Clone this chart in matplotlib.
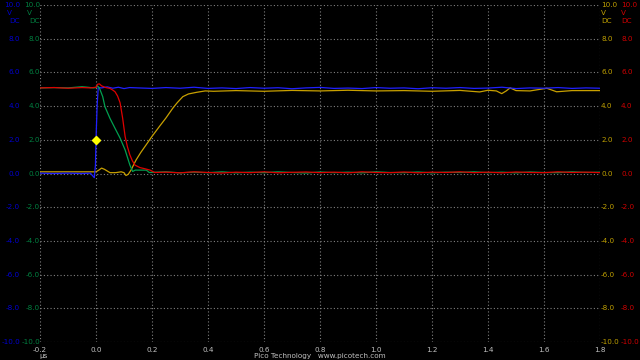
import matplotlib
matplotlib.use('Agg')
import matplotlib.pyplot as plt
import matplotlib.transforms as mtransforms

# time axis ticks (us) and voltage ticks (V)
x_ticks = [-0.2, 0.0, 0.2, 0.4, 0.6, 0.8, 1.0, 1.2, 1.4, 1.6, 1.8]
y_ticks = [10.0, 8.0, 6.0, 4.0, 2.0, 0.0, -2.0, -4.0, -6.0, -8.0, -10.0]

# channel A (blue)
blue_t = [-0.2, -0.15, -0.1, -0.05, -0.02, -0.006, -0.002, 0.0, 0.004, 0.008,
          0.02, 0.04, 0.06, 0.08, 0.1, 0.12, 0.15, 0.2, 0.25, 0.3,
          0.35, 0.4, 0.45, 0.5, 0.55, 0.6, 0.65, 0.7, 0.75, 0.8,
          0.85, 0.9, 0.95, 1.0, 1.05, 1.1, 1.15, 1.2, 1.25, 1.3,
          1.35, 1.4, 1.45, 1.5, 1.55, 1.6, 1.65, 1.7, 1.75, 1.8]
blue_v = [0.02, 0.0, 0.02, 0.0, 0.02, -0.25, 0.5, 2.0, 4.0, 5.1,
          5.08, 5.14, 5.06, 5.12, 5.04, 5.1, 5.08, 5.05, 5.1, 5.06,
          5.12, 5.05, 5.08, 5.04, 5.1, 5.06, 5.09, 5.03, 5.08, 5.11,
          5.05, 5.07, 5.04, 5.1, 5.06, 5.08, 5.03, 5.09, 5.06, 5.1,
          5.05, 5.07, 5.12, 5.04, 5.08, 5.06, 5.1, 5.05, 5.08, 5.06]

# channel B (green)
green_t = [-0.2, -0.15, -0.1, -0.05, -0.03, -0.01, 0.0, 0.005, 0.012, 0.024,
           0.032, 0.05, 0.068, 0.086, 0.104, 0.121, 0.131, 0.14, 0.16, 0.18,
           0.19, 0.25, 0.3, 0.35, 0.4, 0.45, 0.5, 0.55, 0.6, 0.65,
           0.7, 0.75, 0.8, 0.85, 0.9, 0.95, 1.0, 1.05, 1.1, 1.15,
           1.2, 1.25, 1.3, 1.35, 1.4, 1.45, 1.5, 1.55, 1.6, 1.65,
           1.7, 1.75, 1.8]
green_v = [5.08, 5.1, 5.08, 5.15, 5.12, 5.08, 5.1, 5.2, 5.08, 4.56,
           3.96, 3.27, 2.68, 2.1, 1.4, 0.5, 0.12, 0.2, 0.2, 0.2,
           0.06, 0.1, 0.04, 0.08, 0.05, 0.1, 0.04, 0.08, 0.05, 0.1,
           0.06, 0.03, 0.09, 0.05, 0.08, 0.04, 0.1, 0.06, 0.05, 0.09,
           0.04, 0.08, 0.06, 0.1, 0.05, 0.08, 0.04, 0.09, 0.06, 0.05,
           0.1, 0.06, 0.08]

# channel C (yellow)
yellow_t = [-0.2, -0.1, -0.02, 0.0, 0.01, 0.02, 0.03, 0.05, 0.07, 0.09,
            0.1, 0.107, 0.115, 0.125, 0.143, 0.16, 0.179, 0.2, 0.226, 0.25,
            0.274, 0.29, 0.31, 0.33, 0.36, 0.39, 0.42, 0.5, 0.6, 0.7,
            0.8, 0.9, 1.0, 1.1, 1.2, 1.3, 1.37, 1.4, 1.43, 1.449,
            1.465, 1.479, 1.5, 1.55, 1.61, 1.645, 1.7, 1.8]
yellow_v = [0.1, 0.1, 0.1, 0.1, 0.2, 0.32, 0.25, 0.05, 0.05, 0.1,
            0.05, -0.12, -0.05, 0.2, 0.8, 1.25, 1.7, 2.2, 2.78, 3.3,
            3.87, 4.2, 4.56, 4.72, 4.82, 4.9, 4.88, 4.92, 4.88, 4.93,
            4.9, 4.94, 4.9, 4.92, 4.88, 4.93, 4.84, 4.94, 4.9, 4.74,
            4.9, 5.08, 4.92, 4.9, 5.06, 4.85, 4.92, 4.92]

# channel D (red)
red_t = [-0.2, -0.15, -0.1, -0.05, -0.02, 0.0, 0.006, 0.012, 0.02, 0.035,
         0.05, 0.06, 0.068, 0.077, 0.086, 0.095, 0.104, 0.112, 0.121, 0.13,
         0.139, 0.157, 0.175, 0.193, 0.21, 0.25, 0.3, 0.35, 0.4, 0.45,
         0.5, 0.55, 0.6, 0.65, 0.7, 0.75, 0.8, 0.85, 0.9, 0.95,
         1.0, 1.05, 1.1, 1.15, 1.2, 1.25, 1.3, 1.35, 1.4, 1.45,
         1.5, 1.55, 1.6, 1.65, 1.7, 1.75, 1.8]
red_v = [5.08, 5.1, 5.06, 5.1, 5.08, 5.12, 5.3, 5.32, 5.2, 5.1,
         5.05, 4.95, 4.85, 4.6, 4.2, 3.3, 2.2, 1.6, 1.1, 0.75,
         0.5, 0.35, 0.28, 0.2, 0.06, 0.08, 0.04, 0.1, 0.06, 0.03,
         0.08, 0.05, 0.1, 0.04, 0.07, 0.09, 0.05, 0.08, 0.04, 0.1,
         0.06, 0.05, 0.09, 0.04, 0.08, 0.06, 0.1, 0.05, 0.08, 0.04,
         0.09, 0.06, 0.05, 0.1, 0.06, 0.08, 0.05]

trigger_t = [0.0]
trigger_v = [2.0]

BLUE = '#2020ff'
GREEN = '#00a050'
YELLOW = '#c8a000'
RED = '#e00000'
BLUE_TXT = '#0000d0'
GREEN_TXT = '#008040'
YELLOW_TXT = '#c0a000'
RED_TXT = '#d00000'
GRAY_TXT = '#c0c0c0'

plt.rcParams['font.family'] = ['DejaVu Sans']

fig = plt.figure(figsize=(6.4, 3.6), dpi=100, facecolor='black')
ax = fig.add_axes([40 / 640, 1 - 342 / 360, 560 / 640, 337 / 360])
ax.set_facecolor('black')
ax.set_xlim(-0.2, 1.8)
ax.set_ylim(-10, 10)
ax.set_xticks(x_ticks)
ax.set_yticks(y_ticks)
ax.tick_params(length=0, labelleft=False, labelbottom=False)
for s in ax.spines.values():
    s.set_visible(False)
ax.grid(True, color='#808080', linestyle=(0, (1, 2)), linewidth=0.8)

lw = 0.9
ax.plot(yellow_t, yellow_v, color=YELLOW, lw=lw, zorder=3)
ax.plot(blue_t, blue_v, color=BLUE, lw=lw, zorder=4)
ax.plot(green_t, green_v, color=GREEN, lw=lw, zorder=5)
ax.plot(red_t, red_v, color=RED, lw=lw, zorder=6)
ax.plot(trigger_t, trigger_v, marker='D', color='#ffff00', ms=4, lw=0, zorder=7)

fs = 5.2
ytr = mtransforms.blended_transform_factory(fig.transFigure, ax.transData)
for v in y_ticks:
    lab = '%.1f' % v
    ax.text(20 / 640, v, lab, transform=ytr, color=BLUE_TXT, fontsize=fs,
            ha='right', va='center', clip_on=False)
    ax.text(40 / 640, v, lab, transform=ytr, color=GREEN_TXT, fontsize=fs,
            ha='right', va='center', clip_on=False)
    ax.text(601 / 640, v, lab, transform=ytr, color=YELLOW_TXT, fontsize=fs,
            ha='left', va='center', clip_on=False)
    ax.text(621 / 640, v, lab, transform=ytr, color=RED_TXT, fontsize=fs,
            ha='left', va='center', clip_on=False)

# units under the top labels
for x, c, ha in [(20, BLUE_TXT, 'right'), (40, GREEN_TXT, 'right'),
                 (601, YELLOW_TXT, 'left'), (621, RED_TXT, 'left')]:
    fig.text(x / 640 - (0.012 if ha == 'right' else 0), 1 - 13 / 360, 'V',
             color=c, fontsize=fs, ha=ha, va='center')
    fig.text(x / 640, 1 - 21 / 360, 'DC', color=c, fontsize=fs, ha=ha, va='center')

xtr = mtransforms.blended_transform_factory(ax.transData, fig.transFigure)
for t in x_ticks:
    ax.text(t, 1 - 350 / 360, '%.1f' % t, transform=xtr, color=GRAY_TXT,
            fontsize=fs, ha='center', va='center', clip_on=False)
fig.text(44 / 640, 1 - 356 / 360, 'µs', color=GRAY_TXT, fontsize=fs,
         ha='center', va='center')
fig.text(320 / 640, 1 - 356 / 360, 'Pico Technology   www.picotech.com',
         color=GRAY_TXT, fontsize=fs, ha='center', va='center')

fig.savefig('out.png', dpi=100, facecolor='black')
